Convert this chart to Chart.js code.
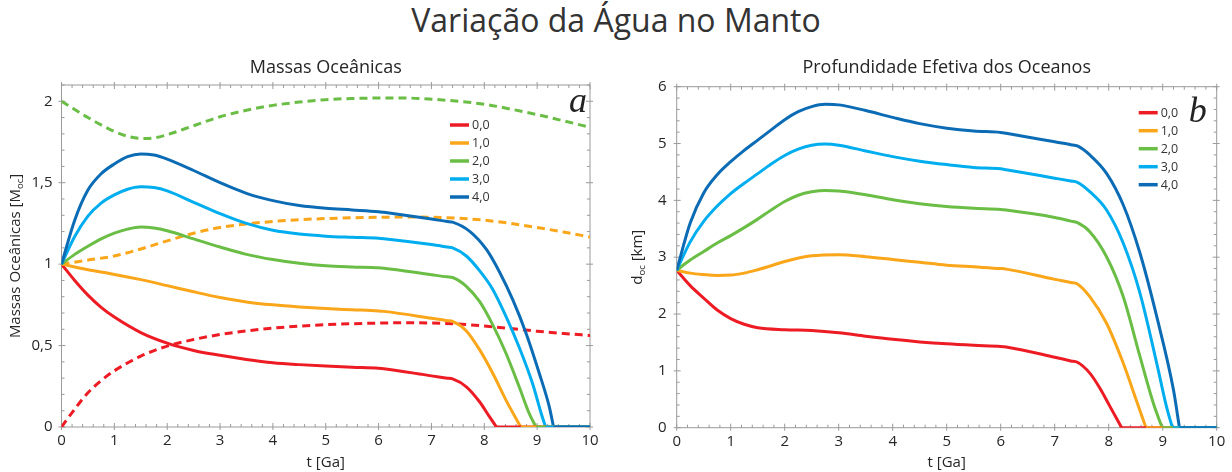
<!DOCTYPE html>
<html lang="pt">
<head>
<meta charset="utf-8">
<title>Variação da Água no Manto</title>
<script src="https://cdn.jsdelivr.net/npm/chart.js@4.4.1/dist/chart.umd.min.js"></script>
<style>
  html, body { margin: 0; padding: 0; background: #fff; }
  body { width: 1232px; height: 472px; position: relative; overflow: hidden; font-family: "Open Sans", sans-serif; }
  #titulo { position: absolute; left: 0; top: 0; width: 1232px; text-align: center; font-size: 32px; line-height: 40px; color: #333; }
  .painel { position: absolute; top: 0; width: 616px; height: 472px; }
  #painelA { left: 0; }
  #painelB { left: 616px; }
</style>
</head>
<body>
<div id="titulo">Variação da Água no Manto</div>
<div class="painel" id="painelA"><canvas id="graficoA" width="616" height="472"></canvas></div>
<div class="painel" id="painelB"><canvas id="graficoB" width="616" height="472"></canvas></div>
<script>
// ---- Series names (mantle water content) ----
const rotulos = ['0,0', '1,0', '2,0', '3,0', '4,0'];

// ---- Ocean masses [M_oc] vs t [Ga]: [t, value] ----
const massa00 = [[0,1],[0.25,0.9],[0.5,0.81],[0.75,0.735],[1,0.675],[1.5,0.58],[2,0.515],[2.5,0.47],[3,0.44],[3.5,0.415],[4,0.395],[4.5,0.383],[5,0.374],[5.5,0.367],[6,0.361],[6.1,0.358],[7,0.314],[7.3,0.3],[7.4,0.295],[7.66,0.247],[7.91,0.155],[8.1,0.062],[8.23,0],[10,0]];
const massa10 = [[0,1],[0.5,0.965],[1,0.937],[1.5,0.905],[2,0.868],[2.5,0.83],[3,0.795],[3.5,0.768],[4,0.75],[4.5,0.737],[5,0.727],[5.5,0.72],[6,0.713],[6.1,0.71],[7,0.668],[7.3,0.653],[7.4,0.648],[7.66,0.59],[7.91,0.475],[8.16,0.33],[8.41,0.165],[8.69,0],[10,0]];
const massa20 = [[0,1],[0.25,1.06],[0.5,1.11],[0.75,1.155],[1,1.19],[1.25,1.215],[1.5,1.228],[1.75,1.222],[2,1.205],[2.5,1.155],[3,1.105],[3.5,1.06],[4,1.028],[4.5,1.005],[5,0.99],[5.5,0.983],[6,0.978],[6.1,0.975],[7,0.935],[7.3,0.922],[7.4,0.918],[7.66,0.864],[7.91,0.771],[8.16,0.627],[8.41,0.453],[8.66,0.247],[8.85,0.083],[8.98,0],[10,0]];
const massa30 = [[0,1],[0.25,1.17],[0.5,1.295],[0.75,1.375],[1,1.425],[1.25,1.46],[1.5,1.475],[1.75,1.47],[2,1.45],[2.5,1.38],[3,1.31],[3.5,1.25],[4,1.208],[4.5,1.185],[5,1.172],[5.5,1.165],[6,1.159],[6.1,1.156],[7,1.12],[7.3,1.105],[7.4,1.1],[7.66,1.05],[7.91,0.96],[8.16,0.845],[8.41,0.68],[8.66,0.49],[8.91,0.27],[9.08,0.08],[9.16,0],[10,0]];
const massa40 = [[0,1],[0.25,1.27],[0.5,1.455],[0.75,1.555],[1,1.615],[1.25,1.66],[1.5,1.677],[1.75,1.67],[2,1.645],[2.5,1.575],[3,1.5],[3.5,1.435],[4,1.39],[4.5,1.36],[5,1.343],[5.5,1.333],[6,1.322],[6.1,1.318],[7,1.277],[7.3,1.262],[7.4,1.258],[7.73,1.2],[8.04,1.09],[8.29,0.95],[8.54,0.78],[8.79,0.576],[9.04,0.33],[9.23,0.124],[9.31,0],[10,0]];

// dashed companions of the 0,0 / 1,0 / 2,0 cases
const tracejada00 = [[0,0],[0.25,0.11],[0.5,0.21],[0.75,0.285],[1,0.345],[1.5,0.435],[2,0.497],[2.5,0.537],[3,0.568],[3.5,0.59],[4,0.607],[4.5,0.619],[5,0.628],[5.5,0.634],[6,0.638],[6.5,0.64],[7,0.638],[7.5,0.632],[8,0.62],[8.5,0.605],[9,0.588],[9.5,0.574],[10,0.562]];
const tracejada10 = [[0,1],[0.5,1.025],[1,1.05],[1.5,1.093],[2,1.143],[2.5,1.19],[3,1.225],[3.5,1.247],[4,1.262],[4.5,1.273],[5,1.28],[5.5,1.285],[6,1.288],[6.5,1.289],[7,1.288],[7.5,1.282],[8,1.27],[8.5,1.25],[9,1.225],[9.5,1.197],[10,1.167]];
const tracejada20 = [[0,2],[0.25,1.95],[0.5,1.9],[0.75,1.855],[1,1.815],[1.25,1.785],[1.5,1.772],[1.75,1.775],[2,1.795],[2.5,1.85],[3,1.905],[3.5,1.945],[4,1.975],[4.5,1.995],[5,2.01],[5.5,2.017],[6,2.02],[6.5,2.02],[7,2.013],[7.5,2.0],[8,1.982],[8.5,1.952],[9,1.918],[9.5,1.88],[10,1.84]];

// ---- Effective ocean depth d_oc [km] vs t [Ga]: [t, value] ----
const prof00 = [[0,2.77],[0.25,2.5],[0.5,2.28],[0.75,2.07],[1,1.92],[1.25,1.82],[1.5,1.76],[2,1.725],[2.5,1.71],[3,1.67],[3.5,1.61],[4,1.555],[4.5,1.51],[5,1.475],[5.5,1.45],[6,1.43],[6.1,1.42],[7,1.24],[7.3,1.175],[7.42,1.151],[7.65,0.96],[7.84,0.69],[8.02,0.38],[8.24,0],[10,0]];
const prof10 = [[0,2.77],[0.25,2.72],[0.5,2.695],[0.75,2.68],[1,2.685],[1.25,2.72],[1.5,2.78],[1.75,2.85],[2,2.925],[2.5,3.025],[3,3.045],[3.5,3.01],[4,2.96],[4.5,2.91],[5,2.86],[5.5,2.83],[6,2.8],[6.1,2.79],[7,2.61],[7.3,2.555],[7.42,2.53],[7.65,2.305],[7.96,1.837],[8.27,1.133],[8.51,0.487],[8.69,0],[10,0]];
const prof20 = [[0,2.77],[0.25,2.95],[0.5,3.1],[0.75,3.25],[1,3.38],[1.25,3.52],[1.5,3.67],[1.75,3.83],[2,3.98],[2.25,4.09],[2.5,4.15],[2.75,4.175],[3,4.165],[3.5,4.1],[4,4.01],[4.5,3.94],[5,3.89],[5.5,3.86],[6,3.84],[6.1,3.83],[7,3.7],[7.3,3.635],[7.42,3.607],[7.65,3.449],[7.96,3.009],[8.27,2.305],[8.58,1.249],[8.83,0.42],[8.99,0],[10,0]];
const prof30 = [[0,2.77],[0.25,3.27],[0.5,3.63],[0.75,3.9],[1,4.12],[1.25,4.3],[1.5,4.47],[1.75,4.64],[2,4.79],[2.25,4.9],[2.5,4.97],[2.75,4.99],[3,4.97],[3.5,4.87],[4,4.77],[4.5,4.69],[5,4.63],[5.5,4.58],[6,4.555],[6.1,4.54],[7,4.39],[7.3,4.34],[7.42,4.318],[7.65,4.153],[7.96,3.831],[8.27,3.245],[8.58,2.365],[8.89,1.133],[9.07,0.37],[9.18,0],[10,0]];
const prof40 = [[0,2.77],[0.25,3.6],[0.5,4.13],[0.75,4.45],[1,4.68],[1.25,4.88],[1.5,5.06],[1.75,5.24],[2,5.42],[2.25,5.56],[2.5,5.65],[2.75,5.69],[3,5.68],[3.5,5.58],[4,5.46],[4.5,5.35],[5,5.27],[5.5,5.22],[6,5.195],[6.1,5.18],[7,5.03],[7.3,4.98],[7.42,4.957],[7.65,4.799],[7.96,4.476],[8.27,3.919],[8.58,3.069],[8.89,1.953],[9.2,0.663],[9.31,0],[10,0]];

// ---- Styling ----
const cores = ['#ed1c24', '#faa61a', '#6abd45', '#00aeef', '#0b6cb5'];
const FONTE = '"Open Sans", sans-serif';
const COR_TEXTO = '#262626';
const COR_EIXO = '#9a9a9a';

const pts = arr => arr.map(([x, y]) => ({ x, y }));

// Each solid series is split at its first zero: the falling curve and the flat floor.
function linhasSolidas(series) {
  const out = [];
  series.forEach((s, i) => {
    const k = s.findIndex(p => p[0] > 0 && p[1] === 0);
    const base = { borderColor: cores[i], backgroundColor: cores[i], borderWidth: 3, pointRadius: 0,
                   cubicInterpolationMode: 'monotone', fill: false, borderCapStyle: 'butt', borderJoinStyle: 'round' };
    out.push(Object.assign({ label: rotulos[i], data: pts(s.slice(0, k + 1)), order: 20 - i }, base));
    out.push(Object.assign({ label: rotulos[i], data: pts(s.slice(k)), order: 10 - i, cubicInterpolationMode: 'default', tension: 0 }, base));
  });
  return out;
}
function linhasTracejadas(series, idx) {
  return series.map((s, j) => ({
    label: rotulos[idx[j]] + ' (tracejada)', data: pts(s), borderColor: cores[idx[j]], borderWidth: 3,
    borderDash: [8, 5], pointRadius: 0, cubicInterpolationMode: 'monotone', fill: false, order: 100
  }));
}

// Frame with major/minor tick marks on the four sides
const moldura = {
  id: 'moldura',
  beforeDatasetsDraw(chart, args, o) {
    const { ctx, chartArea: a, scales: { x, y } } = chart;
    ctx.save();
    ctx.strokeStyle = COR_EIXO;
    ctx.lineWidth = 1;
    ctx.strokeRect(a.left, a.top, a.right - a.left, a.bottom - a.top);
    const desenha = (scale, passo, horizontal) => {
      const majors = scale.ticks.map(t => t.value);
      const n = Math.round((scale.max - scale.min) / passo);
      ctx.beginPath();
      for (let i = 0; i <= n; i++) {
        const v = scale.min + i * passo;
        const p = scale.getPixelForValue(v);
        const maior = majors.some(m => Math.abs(m - v) < passo / 10);
        const fora = maior ? 3 : 0, dentro = maior ? 4 : 3;
        if (horizontal) {
          ctx.moveTo(p, a.bottom + fora); ctx.lineTo(p, a.bottom - dentro);
          ctx.moveTo(p, a.top - fora); ctx.lineTo(p, a.top + dentro);
        } else {
          ctx.moveTo(a.left - fora, p); ctx.lineTo(a.left + dentro, p);
          ctx.moveTo(a.right + fora, p); ctx.lineTo(a.right - dentro, p);
        }
      }
      ctx.stroke();
    };
    desenha(x, o.xMenor, true);
    desenha(y, o.yMenor, false);
    ctx.restore();
  }
};

// Series key, panel letter and rotated y title (with subscript)
const anotacoes = {
  id: 'anotacoes',
  afterDraw(chart, args, o) {
    const { ctx, chartArea: a } = chart;
    ctx.save();
    // key
    ctx.font = '12.5px ' + FONTE;
    ctx.textBaseline = 'middle';
    rotulos.forEach((r, i) => {
      const yy = a.top + o.chaveY + i * 18;
      const x0 = a.right - o.chaveX;
      ctx.strokeStyle = cores[i];
      ctx.lineWidth = 3.5;
      ctx.beginPath(); ctx.moveTo(x0, yy); ctx.lineTo(x0 + 19, yy); ctx.stroke();
      ctx.fillStyle = '#333';
      ctx.fillText(r, x0 + 22, yy + 0.5);
    });
    // panel letter
    ctx.font = 'italic 36px "Liberation Serif", serif';
    ctx.textAlign = 'right';
    ctx.textBaseline = 'alphabetic';
    ctx.fillStyle = '#222';
    ctx.fillText(o.letra, a.right - o.letraX, a.top + o.letraY);
    // y title
    ctx.translate(o.tituloX, (a.top + a.bottom) / 2);
    ctx.rotate(-Math.PI / 2);
    ctx.textAlign = 'left';
    const fN = '15px ' + FONTE, fS = '9.5px ' + FONTE;
    let total = 0;
    o.tituloY.forEach(p => { ctx.font = p.sub ? fS : fN; total += ctx.measureText(p.t).width; });
    let cx = -total / 2;
    ctx.fillStyle = COR_TEXTO;
    o.tituloY.forEach(p => {
      ctx.font = p.sub ? fS : fN;
      ctx.fillText(p.t, cx, p.sub ? 3 : 0);
      cx += ctx.measureText(p.t).width;
    });
    ctx.restore();
  }
};

function opcoes(cfg) {
  return {
    responsive: false,
    animation: false,
    events: [],
    layout: { padding: { left: 0, right: cfg.direita, top: 0, bottom: 0 } },
    plugins: {
      legend: { display: false },
      tooltip: { enabled: false },
      title: {
        display: true, text: cfg.titulo, fullSize: false, color: COR_TEXTO,
        font: { family: FONTE, size: 18, weight: 'normal', lineHeight: 1.2 },
        padding: { top: 57.5, bottom: cfg.tituloBaixo }
      },
      moldura: { xMenor: 0.2, yMenor: cfg.yMenor },
      anotacoes: cfg.anot
    },
    scales: {
      x: {
        type: 'linear', min: 0, max: 10,
        grid: { display: false, drawTicks: false },
        border: { display: false },
        ticks: { stepSize: 1, padding: 5, color: COR_TEXTO, font: { family: FONTE, size: 15 }, maxRotation: 0 },
        title: { display: true, text: 't [Ga]', color: COR_TEXTO, font: { family: FONTE, size: 15 }, padding: { top: 0, bottom: 0 } },
        afterFit: s => { s.height = cfg.alturaX; }
      },
      y: {
        type: 'linear', min: 0, max: cfg.yMax,
        grid: { display: false, drawTicks: false },
        border: { display: false },
        ticks: { stepSize: cfg.yPasso, includeBounds: false, padding: cfg.yPad, color: COR_TEXTO,
                 font: { family: FONTE, size: 15 }, callback: v => String(v).replace('.', ',') },
        afterFit: s => { s.width = cfg.larguraY; }
      }
    }
  };
}

Chart.register(moldura, anotacoes);

new Chart(document.getElementById('graficoA'), {
  type: 'line',
  data: { datasets: linhasTracejadas([tracejada00, tracejada10, tracejada20], [0, 1, 2])
                      .concat(linhasSolidas([massa00, massa10, massa20, massa30, massa40])) },
  options: opcoes({
    titulo: 'Massas Oceânicas', direita: 26, tituloBaixo: 5.9, alturaX: 45, larguraY: 61.5,
    yMax: 2.1, yPasso: 0.5, yMenor: 0.1, yPad: 9,
    anot: { chaveX: 140, chaveY: 40, letra: 'a', letraX: 3, letraY: 27, tituloX: 20,
            tituloY: [{ t: 'Massas Oceânicas [M' }, { t: 'oc', sub: true }, { t: ']' }] }
  })
});

new Chart(document.getElementById('graficoB'), {
  type: 'line',
  data: { datasets: linhasSolidas([prof00, prof10, prof20, prof30, prof40]) },
  options: opcoes({
    titulo: 'Profundidade Efetiva dos Oceanos', direita: 15.3, tituloBaixo: 7.6, alturaX: 44.3, larguraY: 60.7,
    yMax: 6, yPasso: 1, yMenor: 0.2, yPad: 10,
    anot: { chaveX: 78, chaveY: 26, letra: 'b', letraX: 10, letraY: 35, tituloX: 26,
            tituloY: [{ t: 'd' }, { t: 'oc', sub: true }, { t: ' [km]' }] }
  })
});
</script>
</body>
</html>
